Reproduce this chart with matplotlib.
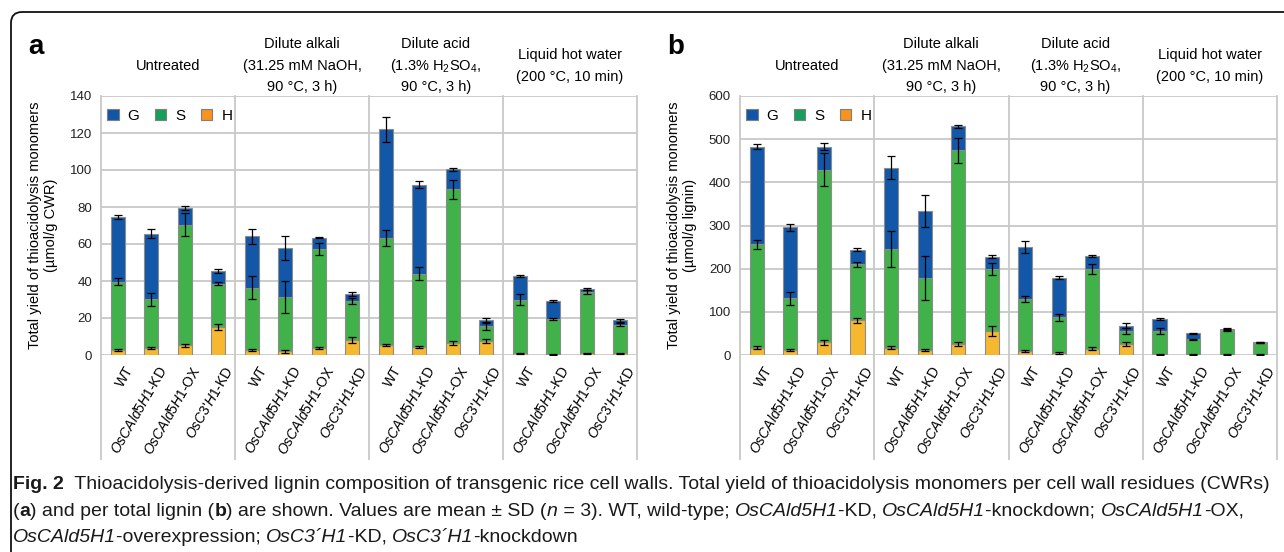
import matplotlib
matplotlib.use("Agg")
import matplotlib.pyplot as plt
import matplotlib.transforms as mtrans
from matplotlib.patches import Patch, FancyBboxPatch
import numpy as np

plt.rcParams['font.family'] = ['Liberation Sans', 'DejaVu Sans']
plt.rcParams['mathtext.fontset'] = 'custom'
plt.rcParams['mathtext.rm'] = 'Liberation Sans'
plt.rcParams['mathtext.it'] = 'Liberation Sans:italic'
plt.rcParams['mathtext.bf'] = 'Liberation Sans:bold'

# Grupos de tratamento e genotipos
headers = [["Untreated"],
           ["Dilute alkali", "(31.25 mM NaOH,", "90 °C, 3 h)"],
           ["Dilute acid", r"(1.3% H$_2$SO$_4$,", "90 °C, 3 h)"],
           ["Liquid hot water", "(200 °C, 10 min)"]]
genotypes = ["WT", r"$\mathit{OsCAld5H1}$-KD", r"$\mathit{OsCAld5H1}$-OX",
             r"$\mathit{OsC3}$'$\mathit{H1}$-KD"]

# Painel a (umol/g CWR): H, S, G e desvios
a_H = [2.7, 3.6, 5.2, 15.0, 2.7, 2.0, 3.6, 8.1, 5.4, 4.1, 6.3, 7.4, 1.0, 0.4, 1.0, 1.0]
a_S = [37.0, 26.5, 65.2, 23.6, 33.7, 29.4, 53.8, 21.1, 57.7, 39.9, 83.2, 8.1, 29.0, 19.1, 32.9, 15.4]
a_G = [35.0, 35.4, 9.2, 6.9, 27.8, 26.5, 6.1, 3.8, 58.9, 48.0, 10.8, 3.4, 12.8, 9.9, 1.6, 2.5]
a_Herr = [0.5, 0.5, 1.0, 1.5, 0.5, 0.7, 0.5, 1.8, 0.7, 0.5, 1.0, 1.0, 0.3, 0.2, 0.3, 0.3]
a_Serr = [1.8, 3.5, 6.2, 1.0, 6.3, 8.6, 3.3, 1.5, 4.3, 3.3, 5.3, 1.8, 3.0, 0.5, 1.0, 0.8]
a_Gerr = [1.0, 2.5, 1.0, 1.0, 4.0, 6.3, 0.5, 1.0, 6.8, 1.8, 0.8, 1.2, 0.5, 0.5, 0.5, 0.8]

# Painel b (umol/g lignin)
b_H = [17, 12, 29, 80, 17, 12, 26, 56, 9, 5, 15, 26, 2, 1, 1, 1]
b_S = [239, 119, 400, 130, 229, 167, 448, 143, 121, 82, 184, 30, 54, 35, 57, 27]
b_G = [227, 165, 54, 34, 188, 154, 56, 29, 120, 92, 30, 12, 27, 14, 2, 1]
b_Herr = [3, 3, 5, 6, 3, 3, 4, 12, 2, 2, 3, 5, 1, 1, 1, 1]
b_Serr = [10, 15, 38, 5, 42, 51, 29, 13, 7, 8, 12, 7, 7, 2, 2, 1]
b_Gerr = [5, 8, 7, 4, 26, 37, 3, 3, 13, 4, 2, 6, 2, 1, 2, 1]

# Cores
cG, cS, cH = "#1257a8", "#41b14a", "#f5b82e"
legend_colors = ["#1155a6", "#14a05a", "#f7941d"]
grid_c = "#c8c8c8"

W, H = 1284, 552
fig = plt.figure(figsize=(W / 100, H / 100), dpi=100)


def fy(px):
    return 1 - px / H


def draw_panel(left_px, right_px, Hv, Sv, Gv, Herr, Serr, Gerr, ymax, ystep, ylabel, letter):
    ax = fig.add_axes([left_px / W, fy(355), (right_px - left_px) / W, (355 - 96) / H])
    x = np.arange(16)
    Hv, Sv, Gv = np.array(Hv), np.array(Sv), np.array(Gv)
    kw = dict(width=0.42, edgecolor="#8c8c8c", linewidth=0.8, zorder=3)
    ax.bar(x, Hv, color=cH, **kw)
    ax.bar(x, Sv, bottom=Hv, color=cS, **kw)
    ax.bar(x, Gv, bottom=Hv + Sv, color=cG, **kw)
    ekw = dict(fmt="none", ecolor="black", elinewidth=0.9, capsize=3, capthick=0.9, zorder=4)
    ax.errorbar(x, Hv, yerr=Herr, **ekw)
    ax.errorbar(x, Hv + Sv, yerr=Serr, **ekw)
    ax.errorbar(x, Hv + Sv + Gv, yerr=Gerr, **ekw)

    ax.set_xlim(-0.5, 15.5)
    ax.set_ylim(0, ymax)
    ax.set_yticks(np.arange(0, ymax + 1, ystep))
    ax.yaxis.grid(True, color=grid_c, linewidth=1.3)
    ax.set_axisbelow(True)
    for s in ax.spines.values():
        s.set_visible(False)
    ax.tick_params(axis="y", length=0, pad=6.5, labelsize=9.5, labelcolor="#222222")
    ax.tick_params(axis="x", length=0, pad=9)
    ax.set_xticks(x)
    ax.set_xticklabels(genotypes * 4, rotation=60, ha="right", va="center",
                       rotation_mode="anchor", fontsize=10)
    offset = mtrans.ScaledTranslation(9 / 72, 0, fig.dpi_scale_trans)
    for lab in ax.get_xticklabels():
        lab.set_transform(lab.get_transform() + offset)

    # Linhas verticais separando os grupos
    bt = mtrans.blended_transform_factory(ax.transData, ax.transAxes)
    for xs in [-0.5, 3.5, 7.5, 11.5, 15.5]:
        ax.plot([xs, xs], [1, -0.4], transform=bt, color=grid_c, linewidth=1.3,
                clip_on=False, zorder=1)

    # Cabecalhos dos tratamentos
    ht = mtrans.blended_transform_factory(ax.transData, fig.transFigure)
    for i, lines in enumerate(headers):
        n = len(lines)
        for j, line in enumerate(lines):
            ypx = 66 + (j - (n - 1) / 2) * 21.5
            ax.text(i * 4 + 1.5, fy(ypx), line, transform=ht, ha="center", va="center",
                    fontsize=10.5)

    handles = [Patch(facecolor=c, edgecolor="#7f7f7f", linewidth=0.8) for c in legend_colors]
    ax.legend(handles, ["G", "S", "H"], ncol=3, loc="upper left", bbox_to_anchor=(0.0, 0.975),
              frameon=False, fontsize=11, handlelength=0.75, handleheight=0.75,
              handletextpad=0.6, columnspacing=1.0, borderaxespad=0)

    fig.text((left_px - 58) / W, fy(225), ylabel, rotation=90, ha="center", va="center",
             multialignment="center", fontsize=10.5, linespacing=1.25)
    fig.text((left_px - 73) / W, fy(47), letter, ha="left", va="center", fontsize=20,
             fontweight="bold")
    return ax


draw_panel(101, 637, a_H, a_S, a_G, a_Herr, a_Serr, a_Gerr, 140, 20,
           "Total yield of thioacidolysis monomers\n(µmol/g CWR)", "a")
draw_panel(740, 1277, b_H, b_S, b_G, b_Herr, b_Serr, b_Gerr, 600, 100,
           "Total yield of thioacidolysis monomers\n(µmol/g lignin)", "b")

# Moldura arredondada
frame = FancyBboxPatch((11, -60), 1400, 600, boxstyle="round,pad=0,rounding_size=11",
                       transform=mtrans.IdentityTransform(), fill=False,
                       edgecolor="#111111", linewidth=1.3)
fig.add_artist(frame)

# Legenda da figura
cap_font = ["Liberation Sans"]
cap_size = 14
cap_lines = [
    [("Fig. 2", "bold", "normal"),
     ("  Thioacidolysis-derived lignin composition of transgenic rice cell walls. "
      "Total yield of thioacidolysis monomers per cell wall residues (CWRs)", "normal", "normal")],
    [("(", "normal", "normal"), ("a", "bold", "normal"), (") and per total lignin (", "normal", "normal"),
     ("b", "bold", "normal"), (") are shown. Values are mean ± SD (", "normal", "normal"),
     ("n", "normal", "italic"), (" = 3). WT, wild-type; ", "normal", "normal"),
     ("OsCAld5H1", "normal", "italic"), ("-KD, ", "normal", "normal"),
     ("OsCAld5H1", "normal", "italic"), ("-knockdown; ", "normal", "normal"),
     ("OsCAld5H1", "normal", "italic"), ("-OX,", "normal", "normal")],
    [("OsCAld5H1", "normal", "italic"), ("-overexpression; ", "normal", "normal"),
     ("OsC3´H1", "normal", "italic"), ("-KD, ", "normal", "normal"),
     ("OsC3´H1", "normal", "italic"), ("-knockdown", "normal", "normal")],
]
cap_base = [489, 516, 542]

renderer = fig.canvas.get_renderer()
for runs, ypx in zip(cap_lines, cap_base):
    xpx = 13
    for s, weight, style in runs:
        t = fig.text(xpx / W, fy(ypx), s, ha="left", va="baseline", fontsize=cap_size,
                     fontweight=weight, fontstyle=style, family=cap_font, color="#1a1a1a")
        # mede o avanco real, incluindo espacos no fim
        m = fig.text(0, 0, s + "|", fontsize=cap_size, fontweight=weight, fontstyle=style,
                     family=cap_font)
        w1 = m.get_window_extent(renderer).width
        m.set_text("|")
        w2 = m.get_window_extent(renderer).width
        m.remove()
        xpx += w1 - w2

fig.savefig("out.png", dpi=100)
